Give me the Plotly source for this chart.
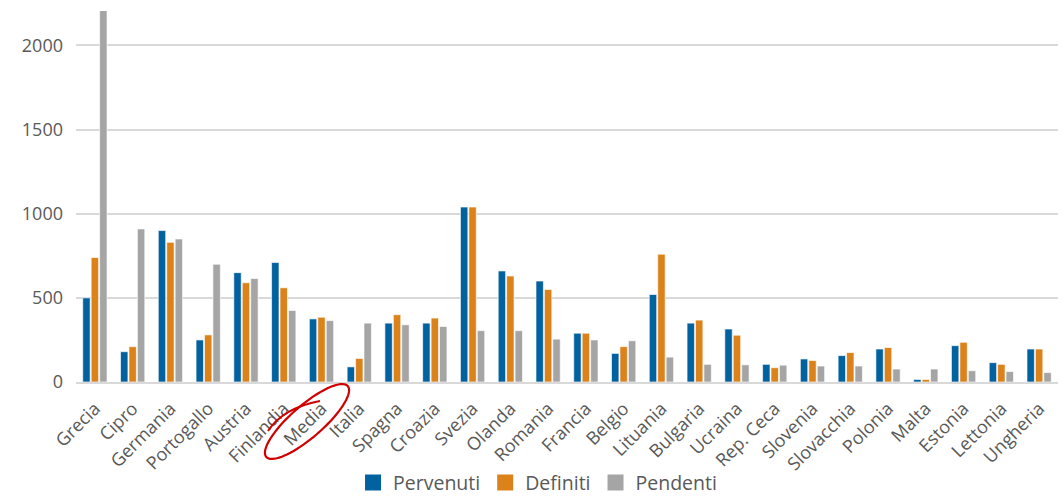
import numpy as np
import plotly.graph_objects as go

categories = ["Grecia", "Cipro", "Germania", "Portogallo", "Austria", "Finlandia", "Media",
              "Italia", "Spagna", "Croazia", "Svezia", "Olanda", "Romania", "Francia", "Belgio",
              "Lituania", "Bulgaria", "Ucraina", "Rep. Ceca", "Slovenia", "Slovacchia", "Polonia",
              "Malta", "Estonia", "Lettonia", "Ungheria"]
pervenuti = [500, 180, 900, 250, 650, 710, 375, 90, 350, 350, 1040, 660, 600, 290, 170,
             520, 350, 315, 105, 137, 157, 196, 15, 216, 115, 196]
definiti = [740, 210, 830, 280, 590, 560, 385, 140, 400, 380, 1040, 630, 550, 290, 210,
            760, 368, 278, 85, 128, 175, 205, 15, 236, 105, 196]
pendenti = [2210, 910, 850, 700, 615, 425, 365, 350, 340, 330, 305, 305, 255, 250, 245,
            148, 105, 102, 100, 95, 95, 77, 77, 67, 62, 56]
y_ticks = [0, 500, 1000, 1500, 2000]

W, H = 1064, 498
L, R, T, B = 76, 1058, 11, 382

series = [("Pervenuti", pervenuti, "#02619f"),
          ("Definiti", definiti, "#db821b"),
          ("Pendenti", pendenti, "#a5a5a5")]

fig = go.Figure()
for name, vals, col in series:
    fig.add_trace(go.Bar(x=categories, y=vals, name=name, showlegend=False,
                         marker=dict(color=col, line=dict(color="rgba(255,255,255,0.8)", width=0.8))))
# legend entries with larger square symbols
for name, vals, col in series:
    fig.add_trace(go.Scatter(x=[None], y=[None], mode="markers", name=name,
                             marker=dict(symbol="square", size=16, color=col)))


def px2paper(px, py):
    return (px - L) / (R - L), (B - py) / (B - T)


# hand-drawn style red ellipse around "Media"
cx, cy, a, b = 307, 421.5, 54, 16
ang = np.deg2rad(41)
u = np.array([np.cos(ang), -np.sin(ang)])
v = np.array([-np.sin(ang), -np.cos(ang)])
ts = np.linspace(0, 2 * np.pi, 80)
pts = [px2paper(cx + a * np.cos(t) * u[0] + b * np.sin(t) * v[0],
                cy + a * np.cos(t) * u[1] + b * np.sin(t) * v[1]) for t in ts]
path = "M " + " L ".join(f"{x:.5f},{y:.5f}" for x, y in pts) + " Z"
fig.add_shape(type="path", xref="paper", yref="paper", path=path,
              line=dict(color="#d00000", width=2.2))
p0 = px2paper(268, 431)
pc = px2paper(283, 408)
p1 = px2paper(320, 401)
fig.add_shape(type="path", xref="paper", yref="paper",
              path=f"M {p0[0]:.5f},{p0[1]:.5f} Q {pc[0]:.5f},{pc[1]:.5f} {p1[0]:.5f},{p1[1]:.5f}",
              line=dict(color="#d00000", width=2))

fig.update_layout(
    width=W, height=H,
    margin=dict(l=L, r=W - R, t=T, b=H - B, autoexpand=False),
    paper_bgcolor="white", plot_bgcolor="white",
    barmode="group", bargap=0.33, bargroupgap=0.12,
    font=dict(family="Open Sans", size=17, color="#595959"),
    showlegend=True,
    legend=dict(orientation="h", x=0.47, xanchor="center", y=-0.272, yanchor="middle",
                font=dict(size=19.5, color="#595959"), traceorder="normal",
                itemwidth=30, tracegroupgap=0),
    xaxis=dict(tickangle=-45, showgrid=False, showline=True, linecolor="#d9d9d9",
               linewidth=2, ticks="", tickfont=dict(size=18), ticklabelstandoff=7),
    yaxis=dict(range=[0, 2205], tickvals=y_ticks, showgrid=True, gridcolor="#d9d9d9",
               gridwidth=1.5, zeroline=False, showline=False, ticks="",
               tickfont=dict(size=18), ticklabelstandoff=12),
)

fig.write_html("out.html")
